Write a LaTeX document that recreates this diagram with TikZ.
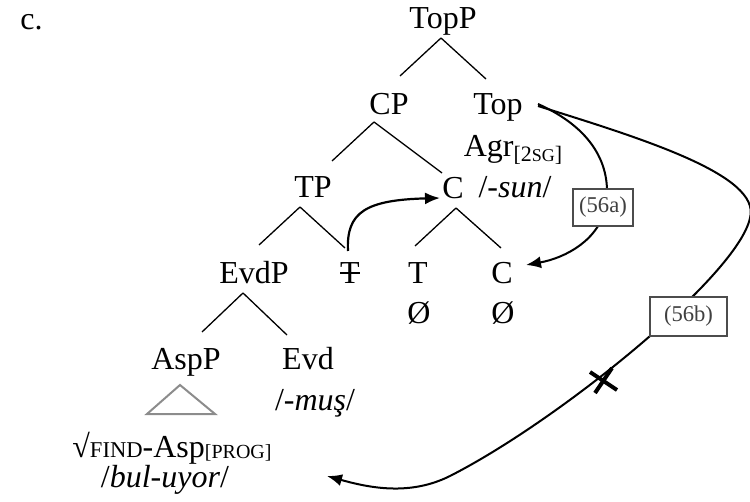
\documentclass[tikz,border=0pt]{standalone}
\usepackage{fontspec}
\setmainfont{Liberation Serif}
\usetikzlibrary{arrows.meta,calc}
\begin{document}
\begin{tikzpicture}[x=0.5pt,y=-0.5pt,
  lab/.style={inner sep=0pt,anchor=base,font=\fontsize{16}{19}\selectfont},
  branch/.style={line width=0.65pt},
  mvarr/.style={line width=1.1pt,-{Latex[length=7.5pt,width=6pt]}},
  tag/.style={draw=black!70,fill=white,line width=0.6pt,text=black!75,font=\fontsize{11.3}{13}\selectfont,inner sep=0pt,minimum height=18.5pt}]
\useasboundingbox (0,0) rectangle (750,502);
% labels
\node[lab,anchor=base west] (ex) at (20,30) {c.};
\node[lab] (TopP) at (443,29) {TopP};
\node[lab] (CP) at (389,115) {CP};
\node[lab] (Top) at (498,115) {Top};
\node[lab] (Agr) at (513,157) {Agr\raisebox{-2.5pt}{\fontsize{11}{12}\selectfont[2{\fontsize{9}{10}\selectfont SG}]}};
\node[lab] (sun) at (515,198) {/\textit{-sun}/};
\node[lab] (TP) at (313,198) {TP};
\node[lab] (Cm) at (453,199) {C};
\node[lab] (Ts) at (350,284) {T};
\node[lab] (Tb) at (418,284) {T};
\node[lab] (Cb) at (502,284) {C};
\node[lab] (EvdP) at (254,284) {EvdP};
\node[lab] (ZT) at (419,324) {Ø};
\node[lab] (ZC) at (503,324) {Ø};
\node[lab] (AspP) at (186,370) {AspP};
\node[lab] (Evd) at (308,370) {Evd};
\node[lab] (mus) at (315,410) {/\textit{-muş}/};
\node[lab] (find) at (172,457) {√{\fontsize{11.3}{12}\selectfont FIND}-Asp\raisebox{-1pt}{\fontsize{10}{12}\selectfont[PROG]}};
\node[lab] (bul) at (165,487) {/\textit{bul-uyor}/};
% strike through the trace
\draw[line width=0.75pt] ($(Ts.base)+(-10,-11)$) -- ($(Ts.base)+(10,-11)$);
% branches
\draw[branch] ($(TopP.base)+(-2,9)$) -- ($(CP.base)+(11,-39)$);
\draw[branch] ($(TopP.base)+(-2,9)$) -- ($(Top.base)+(-12,-36)$);
\draw[branch] ($(CP.base)+(-15,7)$) -- ($(TP.base)+(19,-37)$);
\draw[branch] ($(CP.base)+(-15,7)$) -- ($(Cm.base)+(-11,-26)$);
\draw[branch] ($(TP.base)+(-13,9)$) -- ($(EvdP.base)+(5,-39)$);
\draw[branch] ($(TP.base)+(-13,9)$) -- ($(Ts.base)+(-5,-36)$);
\draw[branch] ($(Cm.base)+(3,9)$) -- ($(Tb.base)+(-3,-38)$);
\draw[branch] ($(Cm.base)+(3,9)$) -- ($(Cb.base)+(-1,-36)$);
\draw[branch] ($(EvdP.base)+(-11,9)$) -- ($(AspP.base)+(16,-38)$);
\draw[branch] ($(EvdP.base)+(-11,9)$) -- ($(Evd.base)+(-21,-35)$);
% triangle
\draw[black!45,line width=1pt,line join=miter] ($(AspP.base)+(-6,15)$) -- ($(AspP.base)+(-39,44)$) -- ($(AspP.base)+(29,44)$) -- cycle;
% head movement T -> C
\draw[mvarr] ($(Ts.base)+(-2,-33)$) .. controls (346,212) and (366,200) .. ($(Cm.base)+(-13,-1)$);
% (56a)
\draw[line width=1pt,-{Latex[length=7.5pt,width=6pt]}] ($(Top.base)+(40,-11)$) .. controls (592,128) and (612,165) .. (606,205)
  .. controls (600,240) and (565,258) .. ($(Cb.base)+(24,-19)$);
\node[tag,minimum width=30pt] (a56) at (603,207.5) {(56a)};
% (56b)
\coordinate (xm) at (603,381);
\draw[line width=1pt,-{Latex[length=7.5pt,width=6pt]}] ($(Top.base)+(40,-9)$) .. controls (640,138) and (762,175) .. (750,218)
  .. controls (738,275) and (560,420) .. (450,476)
  .. controls (410,496) and (370,488) .. (327,476);
\node[tag,minimum width=38.5pt,minimum height=19.5pt] (b56) at (688.5,316.5) {(56b)};
\draw[line width=2pt] ($(xm)+(-13,-9)$) -- ($(xm)+(14,9)$);
\draw[line width=2pt] ($(xm)+(-8,12)$) -- ($(xm)+(9,-13)$);
\end{tikzpicture}
\end{document}
